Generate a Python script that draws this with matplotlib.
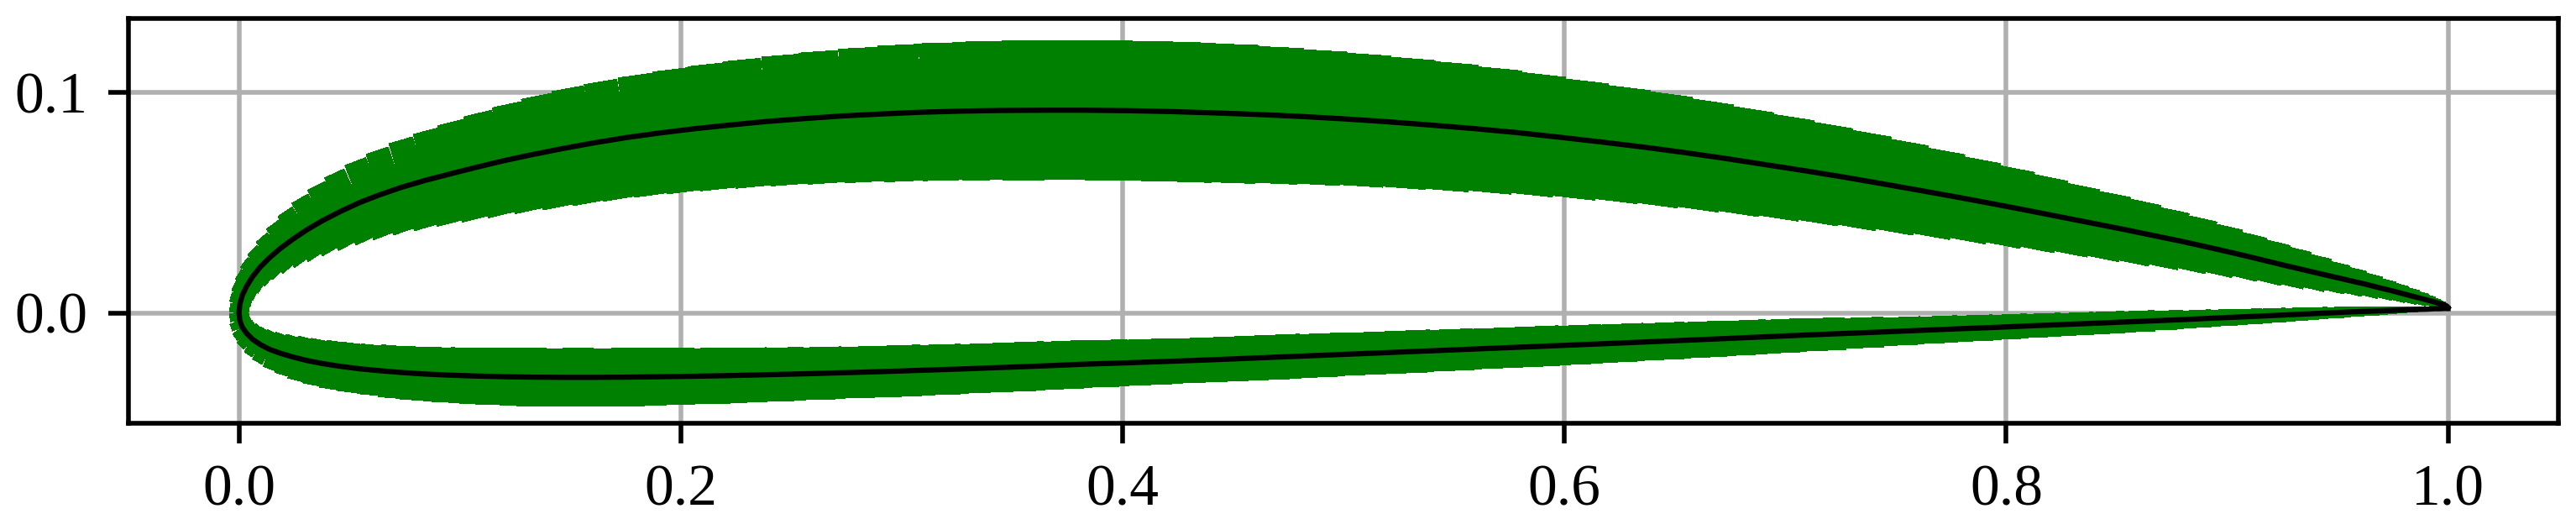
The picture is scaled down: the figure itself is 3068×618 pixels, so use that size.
import numpy as np
import matplotlib.pyplot as plt
from matplotlib.collections import LineCollection

plt.rcParams['font.family'] = ['Liberation Serif', 'DejaVu Serif']
plt.rcParams['font.size'] = 10

# chord stations (shared by upper and lower surface)
x_st = [0.0000, 0.0004, 0.0015, 0.0035, 0.0062, 0.0096, 0.0138, 0.0188, 0.0245, 0.0309,
        0.0381, 0.0459, 0.0545, 0.0638, 0.0737, 0.0843, 0.0955, 0.1073, 0.1198, 0.1328,
        0.1464, 0.1606, 0.1753, 0.1905, 0.2061, 0.2222, 0.2388, 0.2557, 0.2730, 0.2907,
        0.3087, 0.3269, 0.3455, 0.3643, 0.3833, 0.4025, 0.4218, 0.4412, 0.4608, 0.4804,
        0.5000, 0.5196, 0.5392, 0.5588, 0.5782, 0.5975, 0.6167, 0.6357, 0.6545, 0.6731,
        0.6913, 0.7093, 0.7270, 0.7443, 0.7612, 0.7778, 0.7939, 0.8095, 0.8247, 0.8394,
        0.8536, 0.8672, 0.8802, 0.8927, 0.9045, 0.9157, 0.9263, 0.9362, 0.9455, 0.9541,
        0.9619, 0.9691, 0.9755, 0.9812, 0.9862, 0.9904, 0.9938, 0.9965, 0.9985, 0.9996, 1.0000]

# upper surface
y_up = [0.0000, 0.0040, 0.0080, 0.0122, 0.0165, 0.0208, 0.0250, 0.0293, 0.0335, 0.0378,
        0.0420, 0.0460, 0.0500, 0.0536, 0.0570, 0.0601, 0.0630, 0.0660, 0.0690, 0.0718,
        0.0745, 0.0771, 0.0795, 0.0816, 0.0835, 0.0852, 0.0868, 0.0881, 0.0893, 0.0902,
        0.0910, 0.0915, 0.0918, 0.0919, 0.0919, 0.0917, 0.0913, 0.0907, 0.0900, 0.0891,
        0.0880, 0.0867, 0.0852, 0.0836, 0.0818, 0.0797, 0.0775, 0.0752, 0.0727, 0.0700,
        0.0672, 0.0644, 0.0615, 0.0585, 0.0555, 0.0525, 0.0495, 0.0465, 0.0435, 0.0406,
        0.0378, 0.0350, 0.0323, 0.0295, 0.0268, 0.0241, 0.0215, 0.0192, 0.0170, 0.0150,
        0.0132, 0.0114, 0.0098, 0.0083, 0.0070, 0.0059, 0.0050, 0.0042, 0.0036, 0.0030, 0.0025]

# lower surface
y_lo = [0.0000, -0.0035, -0.0065, -0.0093, -0.0120, -0.0143, -0.0165, -0.0183, -0.0200, -0.0216,
        -0.0230, -0.0242, -0.0253, -0.0262, -0.0270, -0.0277, -0.0282, -0.0286, -0.0289, -0.0291,
        -0.0292, -0.0292, -0.0291, -0.0289, -0.0287, -0.0284, -0.0280, -0.0276, -0.0271, -0.0266,
        -0.0260, -0.0254, -0.0247, -0.0240, -0.0232, -0.0226, -0.0219, -0.0212, -0.0204, -0.0196,
        -0.0188, -0.0180, -0.0172, -0.0164, -0.0156, -0.0148, -0.0140, -0.0132, -0.0124, -0.0116,
        -0.0108, -0.0100, -0.0093, -0.0086, -0.0079, -0.0072, -0.0066, -0.0059, -0.0053, -0.0047,
        -0.0041, -0.0035, -0.0030, -0.0024, -0.0019, -0.0014, -0.0009, -0.0004, 0.0000, 0.0004,
        0.0007, 0.0010, 0.0012, 0.0014, 0.0016, 0.0017, 0.0019, 0.0019, 0.0020, 0.0020, 0.0020]

# green band width along each surface (chord units)
w_up = [0.008, 0.009, 0.010, 0.011, 0.013, 0.015, 0.017, 0.020, 0.023, 0.026,
        0.029, 0.032, 0.035, 0.037, 0.040, 0.042, 0.044, 0.046, 0.048, 0.050,
        0.052, 0.053, 0.054, 0.055, 0.056, 0.057, 0.058, 0.059, 0.060, 0.061,
        0.062, 0.062, 0.063, 0.063, 0.063, 0.063, 0.063, 0.063, 0.062, 0.061,
        0.060, 0.059, 0.058, 0.057, 0.055, 0.054, 0.052, 0.051, 0.050, 0.048,
        0.047, 0.045, 0.044, 0.042, 0.040, 0.038, 0.036, 0.034, 0.032, 0.030,
        0.029, 0.027, 0.025, 0.023, 0.021, 0.019, 0.018, 0.016, 0.014, 0.012,
        0.011, 0.009, 0.008, 0.007, 0.006, 0.005, 0.004, 0.003, 0.002, 0.0015, 0.001]
w_lo = [0.008, 0.009, 0.010, 0.011, 0.013, 0.014, 0.016, 0.017, 0.019, 0.020,
        0.021, 0.022, 0.022, 0.023, 0.024, 0.024, 0.025, 0.025, 0.026, 0.026,
        0.026, 0.026, 0.026, 0.026, 0.025, 0.025, 0.024, 0.024, 0.023, 0.023,
        0.023, 0.022, 0.022, 0.022, 0.021, 0.021, 0.020, 0.020, 0.020, 0.020,
        0.019, 0.019, 0.019, 0.018, 0.018, 0.018, 0.017, 0.017, 0.016, 0.016,
        0.015, 0.015, 0.014, 0.013, 0.012, 0.012, 0.011, 0.011, 0.010, 0.010,
        0.0095, 0.009, 0.008, 0.0075, 0.007, 0.0065, 0.006, 0.0055, 0.005, 0.0045,
        0.004, 0.0035, 0.003, 0.0025, 0.002, 0.0018, 0.0015, 0.0013, 0.001, 0.0008, 0.0005]

x_ticks = [0.0, 0.2, 0.4, 0.6, 0.8, 1.0]
y_ticks = [0.0, 0.1]

fig = plt.figure(figsize=(3068 / 500, 618 / 500), dpi=500)
ax = fig.add_axes([0.0499, 0.1845, 0.9433, 0.7799])
ax.set_xlim(-0.05, 1.05)
ax.set_ylim(-0.05, 0.1335)

# one closed contour: trailing edge -> upper -> leading edge -> lower -> trailing edge
xs = np.concatenate([x_st[::-1], x_st[1:]])
ys = np.concatenate([y_up[::-1], y_lo[1:]])
ws = np.concatenate([w_up[::-1], w_lo[1:]])

pts = np.column_stack([xs, ys])
segs = np.stack([pts[:-1], pts[1:]], axis=1)
px_per_unit = ax.transData.transform((1, 0))[0] - ax.transData.transform((0, 0))[0]
lw_seg = 0.5 * (ws[:-1] + ws[1:]) * px_per_unit * 72 / fig.dpi

band = LineCollection(segs, linewidths=lw_seg, colors='green', capstyle='butt',
                      antialiaseds=False, zorder=2)
ax.add_collection(band)
ax.plot(xs, ys, color='black', lw=0.9, zorder=3)

ax.grid(True)
ax.set_xticks(x_ticks)
ax.set_yticks(y_ticks)

fig.savefig('out.png', dpi=500)
